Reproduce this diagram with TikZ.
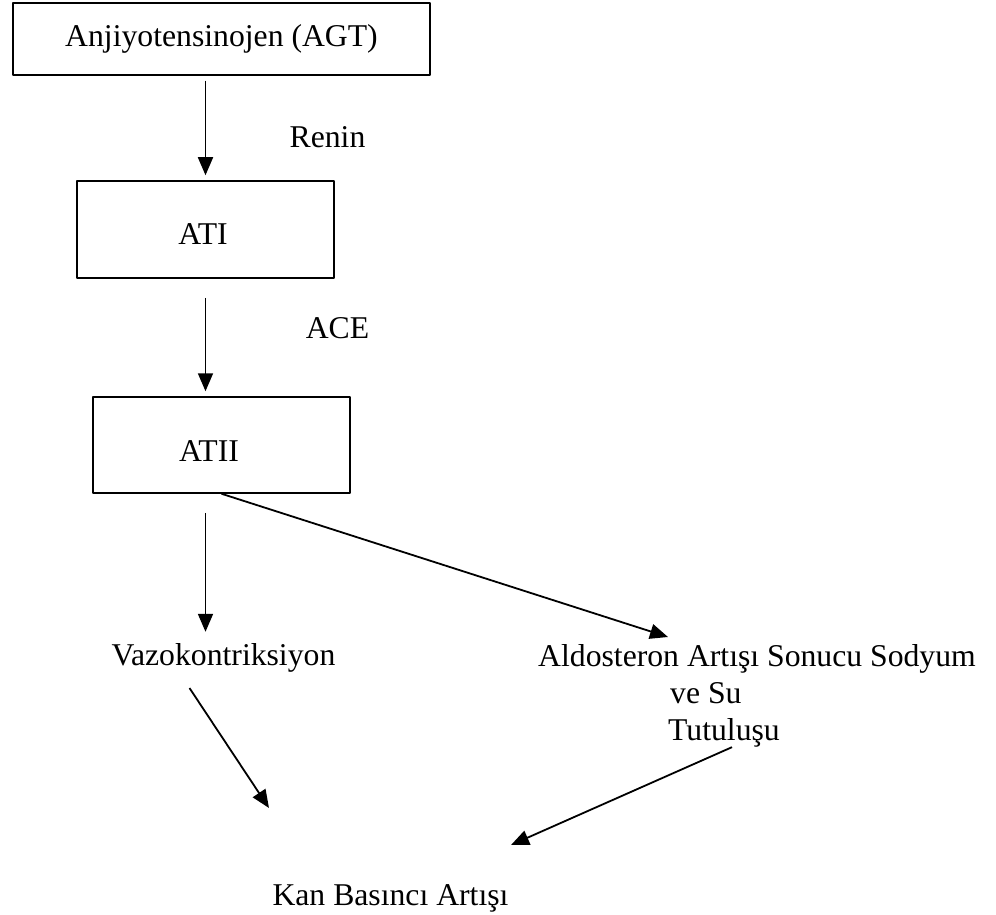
\documentclass[tikz,border=0pt]{standalone}
\usepackage{fontspec}
\setmainfont{Liberation Serif}
\usetikzlibrary{arrows.meta,calc}
\begin{document}
\begin{tikzpicture}[x=1pt, y=-1pt, line join=round, font=\fontsize{31.7pt}{37pt}\selectfont,
    >={Triangle[length=18pt,width=15pt]},
    kutu/.style={draw, line width=1.5pt, inner sep=0pt, text depth=0pt},
    yazi/.style={inner sep=0pt, anchor=base},
    ok/.style={->, line width=1.8pt}]
    \useasboundingbox (0,0) rectangle (996,915);
    % kutular
    \node[kutu, minimum width=417pt, minimum height=72pt, text height=22pt, text depth=7pt] (agt) at (221.5,39) {Anjiyotensinojen (AGT)};
    \node[kutu, minimum width=257pt, minimum height=97pt, text height=29pt] (ati) at (205.5,229.5) {\hspace*{-5pt}ATI};
    \node[kutu, minimum width=257pt, minimum height=96pt, text height=32pt] (atii) at (221.5,445) {\hspace*{-25pt}ATII};
    % enzimler
    \node[yazi] (renin) at (327.5,148) {Renin};
    \node[yazi] (ace) at (337.5,338) {ACE};
    % sonuclar
    \node[yazi] (vazo) at (223.5,665) {Vazokontriksiyon};
    \node[inner sep=0pt, anchor=north west, align=left] (aldo) at (538,644) {Aldosteron Artışı Sonucu Sodyum\\\hspace*{132pt}ve Su\\\hspace*{130pt}Tutuluşu};
    \node[yazi] (kan) at (390.5,905) {Kan Basıncı Artışı};
    \coordinate (aldoGiris) at (668,637);
    \coordinate (kanSol) at (269,808);
    \coordinate (kanSag) at (511,845);
    % oklar
    \draw[ok, shorten <=5pt, shorten >=5pt] (ati.north |- agt.south) -- (ati.north);
    \draw[ok, shorten <=19pt, shorten >=5pt] (ati.south) -- (ati.south |- atii.north);
    \draw[ok, shorten <=19pt, shorten >=11pt] (ati.south |- atii.south) -- (ati.south |- vazo.north);
    \draw[ok] (atii.south) -- (aldoGiris);
    \draw[ok] ([xshift=-34pt,yshift=-16pt]vazo.south) -- (kanSol);
    \draw[ok] ([xshift=-25pt]aldo.south) -- (kanSag);
\end{tikzpicture}
\end{document}
